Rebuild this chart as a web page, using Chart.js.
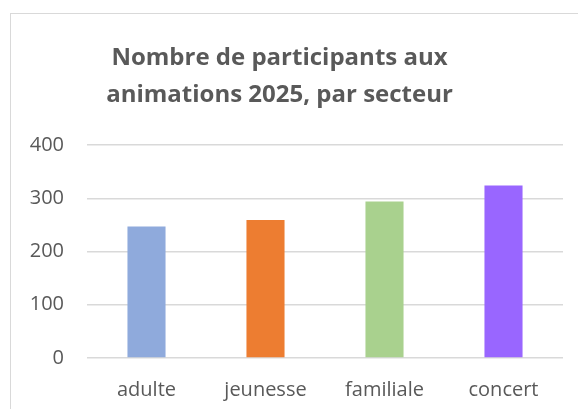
<!DOCTYPE html>
<html lang="fr">

<head>
  <meta charset="UTF-8" />
  <title>Participants aux animations 2025</title>
  <style>
    body {
      margin: 0;
      background: #ffffff;
      overflow: hidden;
    }

    .frame {
      position: absolute;
      left: 10px;
      top: 13px;
      width: 600px;
      height: 420px;
      border: 1px solid #d9d9d9;
    }

    .frame canvas {
      display: block;
    }
  </style>
</head>

<body>
  <div class="frame">
    <canvas id="chart" width="567" height="395"></canvas>
  </div>

  <script src="https://cdn.jsdelivr.net/npm/chart.js"></script>
  <script>
    // categories and values
    const secteurs = ['adulte', 'jeunesse', 'familiale', 'concert'];
    const participants = [247, 259, 294, 324];
    const barColors = ['#8faadc', '#ed7d31', '#a9d18e', '#9966ff'];
    const titleLines = ['Nombre de participants aux', 'animations 2025, par secteur'];

    // Excel centres the title a little left of the canvas middle
    const shiftTitle = {
      id: 'shiftTitle',
      afterLayout(chart) {
        if (chart.titleBlock) chart.titleBlock.right -= 15;
      }
    };

    new Chart(document.getElementById('chart'), {
      type: 'bar',
      data: {
        labels: secteurs,
        datasets: [{
          data: participants,
          backgroundColor: barColors,
          categoryPercentage: 1,
          barPercentage: 0.32
        }]
      },
      options: {
        responsive: false,
        animation: false,
        layout: {
          padding: { left: 0, right: 15, top: 0, bottom: 0 }
        },
        plugins: {
          legend: { display: false },
          tooltip: { enabled: false },
          title: {
            display: true,
            text: titleLines,
            color: '#595959',
            font: { family: 'Open Sans', size: 24, weight: 'bold', lineHeight: '37px' },
            padding: { top: 26, bottom: 31 }
          }
        },
        scales: {
          x: {
            afterFit(scale) { scale.height = 51; },
            grid: { display: false, drawTicks: false },
            border: { display: false },
            ticks: {
              color: '#595959',
              font: { family: 'Open Sans', size: 20 },
              padding: 20
            }
          },
          y: {
            min: 0,
            max: 400,
            afterFit(scale) { scale.width = 76; },
            grid: { color: '#d9d9d9', lineWidth: 1.5, drawTicks: false },
            border: { display: false },
            ticks: {
              stepSize: 100,
              color: '#595959',
              font: { family: 'Open Sans', size: 20 },
              padding: 23
            }
          }
        }
      },
      plugins: [shiftTitle]
    });
  </script>
</body>

</html>
